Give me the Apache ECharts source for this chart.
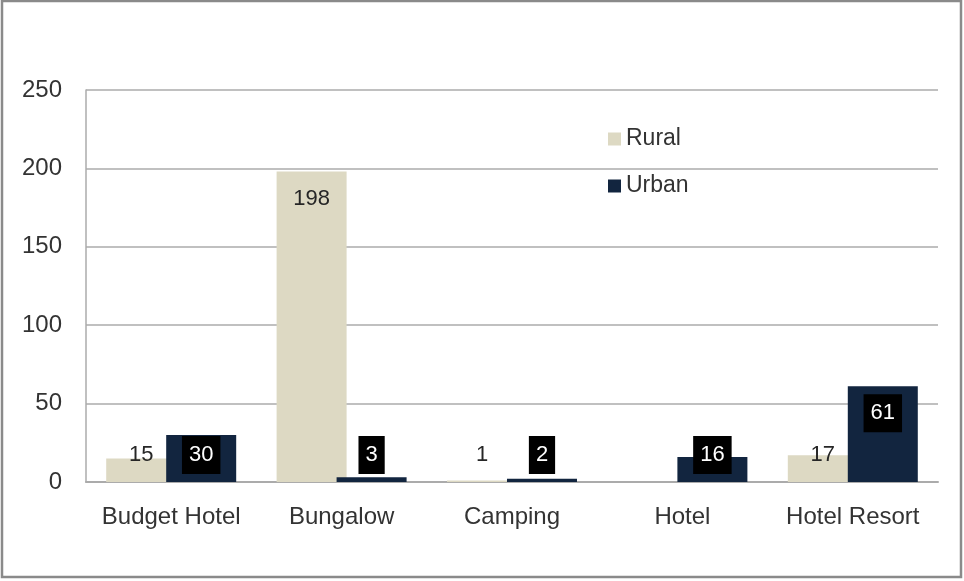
<!DOCTYPE html>
<html>
<head>
<meta charset="utf-8">
<script src="https://cdn.jsdelivr.net/npm/echarts@6/dist/echarts.min.js"></script>
<style>
html,body{margin:0;padding:0;background:#fff;}
#chart{width:964px;height:581px;}
</style>
</head>
<body>
<div id="chart"></div>
<script>
const categories = ['Budget Hotel', 'Bungalow', 'Camping', 'Hotel', 'Hotel Resort'];
const ruralValues = [15, 198, 1, null, 17];
const urbanValues = [30, 3, 2, 16, 61];
const yTicks = [0, 50, 100, 150, 200, 250];

const FONT = 'Liberation Sans';
const LABEL_SWITCH = 35;

function makeData(values) {
  return values.map(v => ({
    value: v,
    label: { position: (v !== null && v >= LABEL_SWITCH) ? 'insideTop' : 'insideBottom' }
  }));
}

const chart = echarts.init(document.getElementById('chart'));
chart.setOption({
  animation: false,
  backgroundColor: '#fff',
  graphic: [{
    type: 'rect',
    shape: { x: 2, y: 1, width: 959, height: 576 },
    style: { fill: 'none', stroke: '#8a8a8a', lineWidth: 2.5 },
    silent: true
  }],
  grid: { left: 86, right: 26, top: 90, bottom: 99 },
  legend: {
    orient: 'vertical',
    left: 603,
    top: 122,
    itemWidth: 13,
    itemHeight: 13,
    itemGap: 23,
    icon: 'rect',
    textStyle: { fontFamily: FONT, fontSize: 23, color: '#333', lineHeight: 24 },
    data: ['Rural', 'Urban']
  },
  xAxis: {
    type: 'category',
    data: categories,
    axisLine: { show: true, lineStyle: { color: '#ababab', width: 2 } },
    axisTick: { show: false },
    axisLabel: { fontFamily: FONT, fontSize: 24, color: '#333', margin: 23, interval: 0 }
  },
  yAxis: {
    type: 'value',
    min: yTicks[0],
    max: yTicks[yTicks.length - 1],
    interval: yTicks[1] - yTicks[0],
    axisLine: { show: true, lineStyle: { color: '#ababab', width: 1.5 } },
    axisTick: { show: false },
    splitLine: { lineStyle: { color: '#ababab', width: 1.5 } },
    axisLabel: { fontFamily: FONT, fontSize: 24, color: '#333', margin: 24 }
  },
  series: [
    {
      name: 'Rural',
      type: 'bar',
      data: makeData(ruralValues),
      barWidth: 70,
      barGap: '-14.3%',
      itemStyle: { color: '#DDD9C3' },
      label: {
        show: true,
        distance: 8,
        fontFamily: FONT,
        fontSize: 22,
        lineHeight: 22,
        color: '#262626',
        padding: [8, 7]
      }
    },
    {
      name: 'Urban',
      type: 'bar',
      data: makeData(urbanValues),
      barWidth: 70,
      barGap: '-14.3%',
      itemStyle: { color: '#12253F' },
      label: {
        show: true,
        distance: 8,
        fontFamily: FONT,
        fontSize: 22,
        lineHeight: 22,
        color: '#fff',
        backgroundColor: '#000',
        padding: [8, 7]
      }
    }
  ]
});
</script>
</body>
</html>
